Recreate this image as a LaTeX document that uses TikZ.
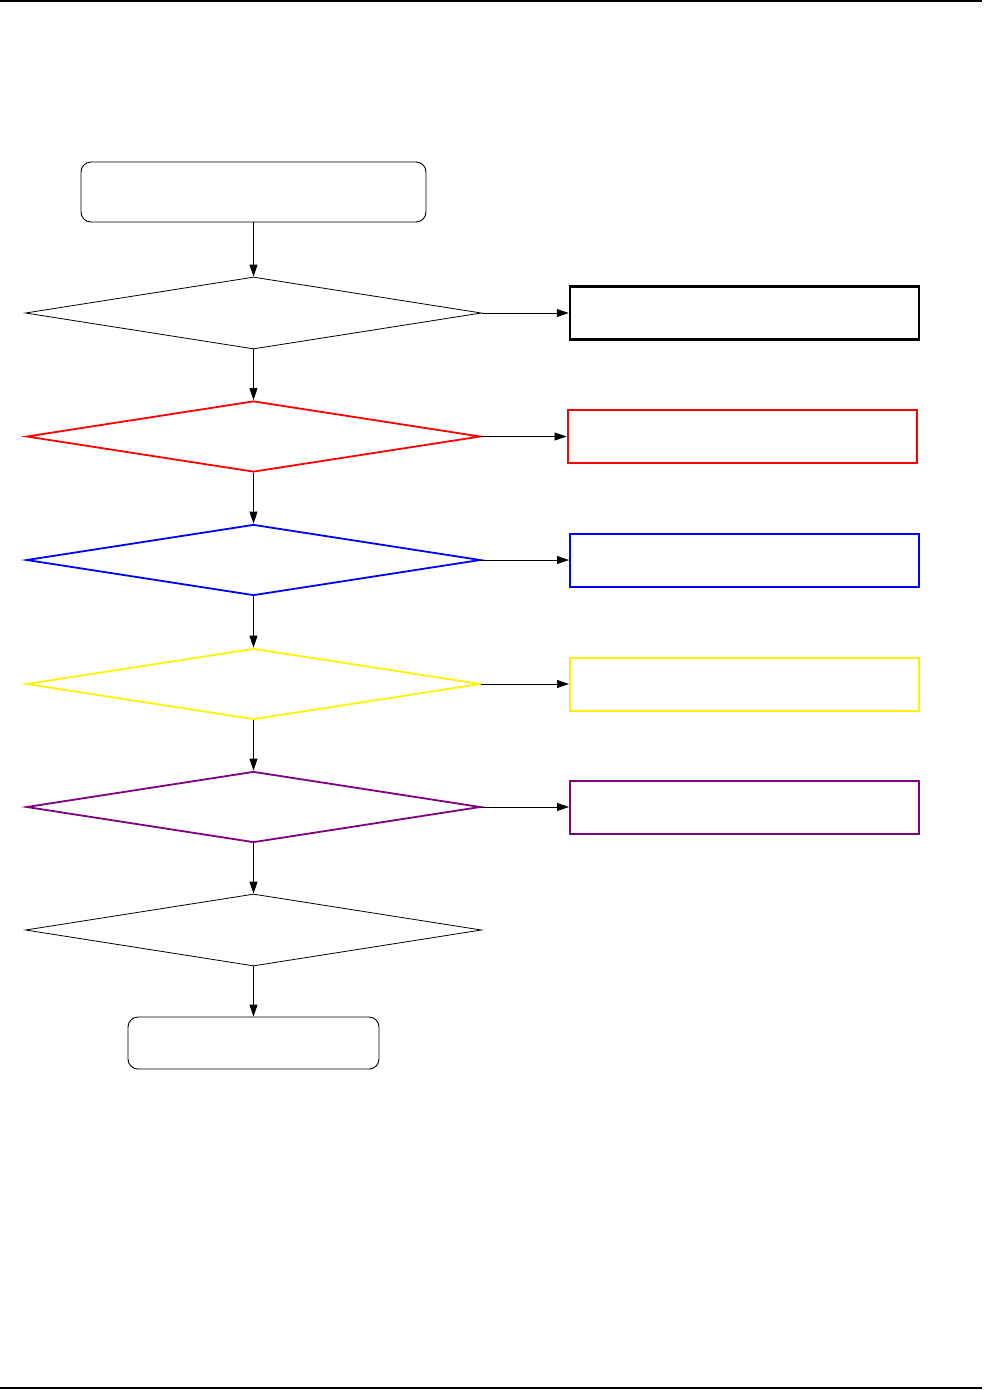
\documentclass[tikz,border=0pt]{standalone}
\usetikzlibrary{shapes.geometric,arrows.meta}
\definecolor{ppl}{RGB}{128,0,128}
\begin{document}
\begin{tikzpicture}[x=1pt,y=-1pt,
  dia/.style={diamond,draw,inner sep=0pt,minimum width=456pt,minimum height=72pt,line width=0.8pt},
  cdia/.style={dia,line width=1.8pt,minimum width=454pt,minimum height=71pt},
  rbox/.style={rectangle,draw,inner sep=0pt,minimum width=349pt,minimum height=53pt,line width=2pt},
  term/.style={rectangle,draw,rounded corners=10pt,inner sep=0pt,line width=0.9pt},
  arr/.style={-{Triangle[length=12pt,width=8pt]},line width=0.9pt}]
\useasboundingbox (0,0) rectangle (995,1390);
\draw[line width=1.5pt] (0,1) -- (982,1);
\draw[line width=1.5pt] (0,1388) -- (982,1388);
\node[term,minimum width=345pt,minimum height=60pt] (start) at (253.5,192) {};
\node[dia] (d1) at (253.5,313) {};
\node[cdia,red] (d2) at (253.5,436.5) {};
\node[cdia,blue] (d3) at (253.5,560) {};
\node[cdia,yellow] (d4) at (253.5,684) {};
\node[cdia,ppl] (d5) at (253.5,807) {};
\node[dia] (d6) at (253.5,930) {};
\node[term,minimum width=251pt,minimum height=52pt] (end) at (253.5,1043) {};
\node[rbox,black,line width=2.5pt] (b1) at (744.5,313) {};
\node[rbox,red] (b2) at (742,436.5) {};
\node[rbox,blue] (b3) at (744.5,560) {};
\node[rbox,yellow] (b4) at (744.5,684) {};
\node[rbox,ppl] (b5) at (744.5,807) {};
\draw[arr] (start.south) -- (d1.north);
\draw[arr] (d1.south) -- (d2.north);
\draw[arr] (d2.south) -- (d3.north);
\draw[arr] (d3.south) -- (d4.north);
\draw[arr] (d4.south) -- (d5.north);
\draw[arr] (d5.south) -- (d6.north);
\draw[arr] (d6.south) -- (end.north);
\draw[arr] (d1.east) -- (b1.west);
\draw[arr] (d2.east) -- (b2.west);
\draw[arr] (d3.east) -- (b3.west);
\draw[arr] (d4.east) -- (b4.west);
\draw[arr] (d5.east) -- (b5.west);
\end{tikzpicture}
\end{document}
